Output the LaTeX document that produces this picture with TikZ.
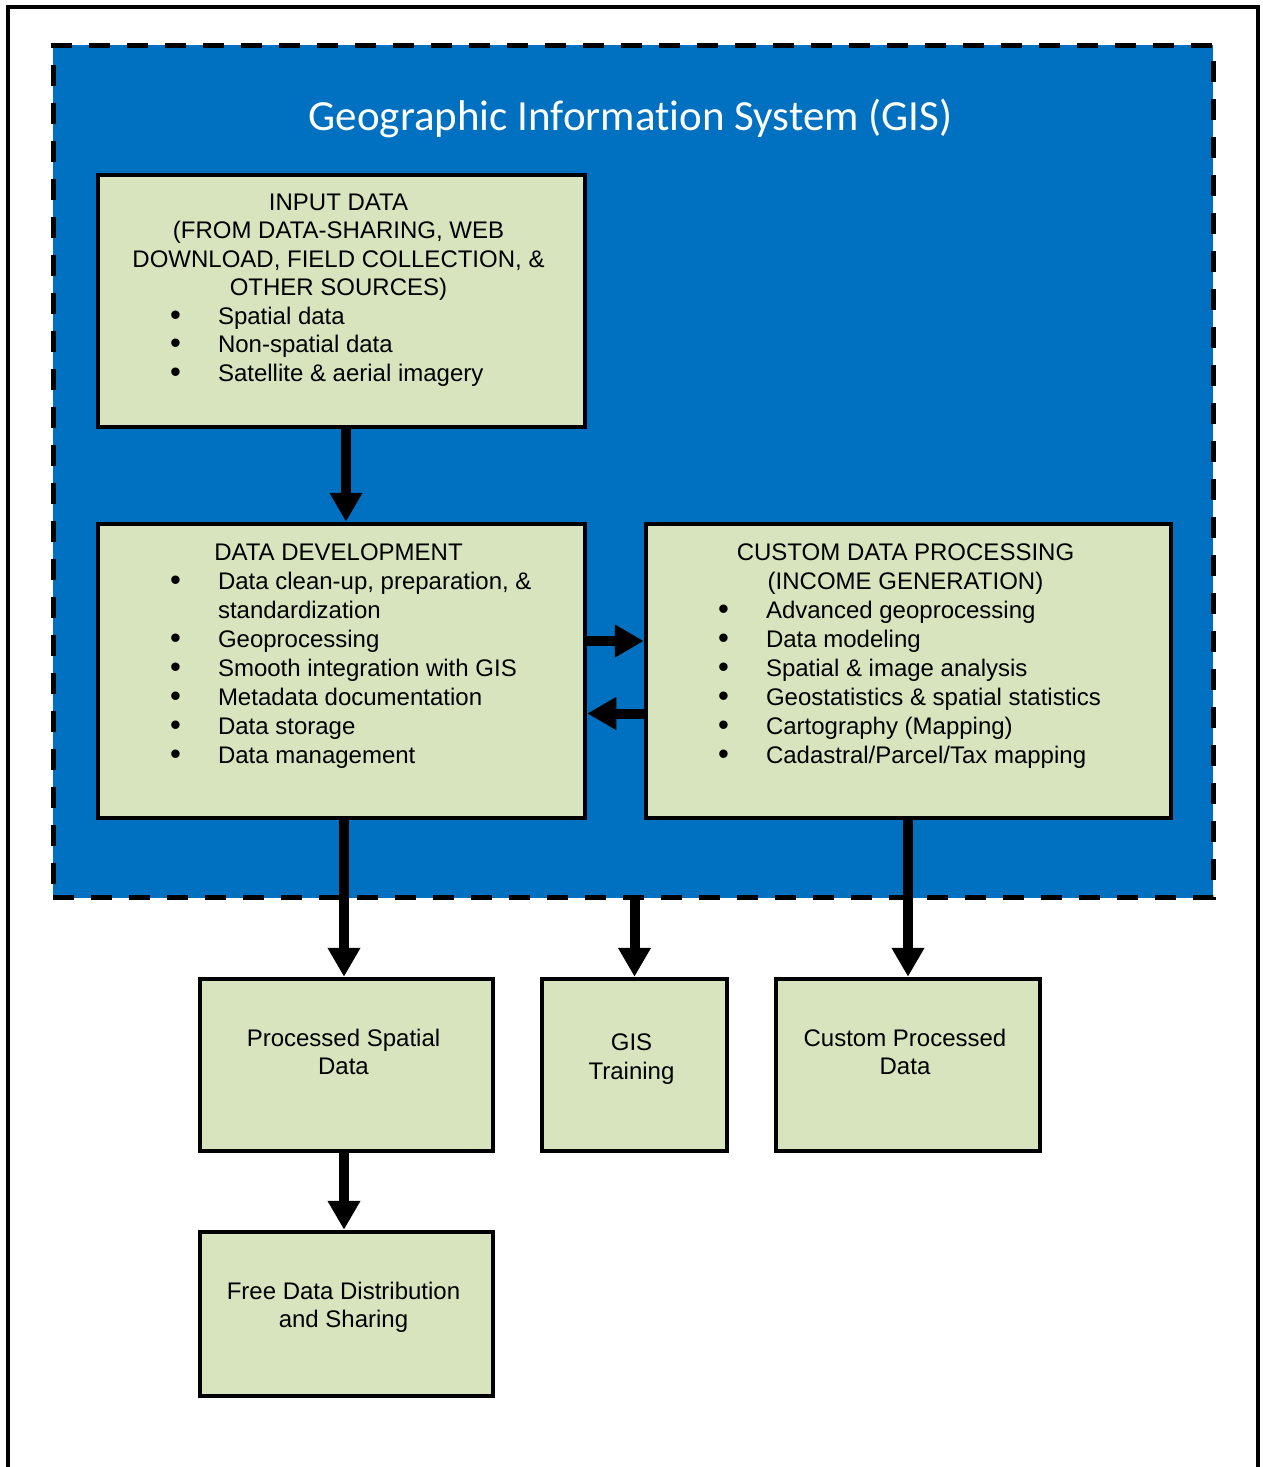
\documentclass[tikz,border=0pt]{standalone}
\usepackage{fontspec}
\setmainfont{Liberation Sans}
\newfontfamily\titlefont[Ligatures=NoCommon,RawFeature=-calt]{Carlito}
\usetikzlibrary{arrows.meta}
\definecolor{gisblue}{HTML}{0070C0}
\definecolor{boxgreen}{HTML}{D7E4BD}
\newcommand\ctrline[1]{\hbox to\hsize{\hss#1\hskip6pt\hss}}
\newcommand\bigbullet{\raisebox{-1.2pt}{\fontsize{31}{29}\selectfont\textbullet}}
\newcommand\bulline[1]{\hbox to\hsize{\hskip72pt\hbox to48pt{\bigbullet\hss}#1\hss}}
\newcommand\contline[1]{\hbox to\hsize{\hskip120pt#1\hss}}
\begin{document}
\begin{tikzpicture}[x=1pt,y=-1pt,
  box/.style={draw=black, fill=boxgreen, line width=4.5pt, inner sep=0pt,
    font=\fontsize{24}{29}\selectfont},
  region/.style={draw=black, fill=gisblue, line width=5pt, dash pattern=on 21pt off 17pt,
    inner sep=0pt, outer sep=0pt},
  arr/.style={line width=10pt, -{Triangle[length=29pt,width=31pt]}},
  frame/.style={line width=3.5pt}]
\useasboundingbox (0,0) rectangle (1262,1467);
% outer frame
\draw[frame] (8,1470) -- (8,7) -- (1258,7) -- (1258,1470);
% GIS region
\node[region, minimum width=1160pt, minimum height=852.5pt] (gis) at (633,471.25) {};
\node[anchor=base, text=white, inner sep=0pt, font=\titlefont\fontsize{43}{50}\selectfont]
  (title) at (630.5,130) {Geographic Information System (GIS)};
% boxes
\node[box] (in) at (341.5,301) {\parbox[c][252pt][t]{487pt}{\fontsize{24}{28.5}\selectfont
  \ctrline{\rule{0pt}{35pt}INPUT DATA}
  \ctrline{(FROM DATA-SHARING, WEB}
  \ctrline{DOWNLOAD, FIELD COLLECTION, \&}
  \ctrline{OTHER SOURCES)}
  \bulline{Spatial data}
  \bulline{Non-spatial data}
  \bulline{Satellite \& aerial imagery}}};
\node[box] (dev) at (341.5,671) {\parbox[c][294pt][t]{487pt}{
  \ctrline{\rule{0pt}{36pt}DATA DEVELOPMENT}
  \bulline{Data clean-up, preparation, \&}
  \contline{standardization}
  \bulline{Geoprocessing}
  \bulline{Smooth integration with GIS}
  \bulline{Metadata documentation}
  \bulline{Data storage}
  \bulline{Data management}}};
\node[box] (cust) at (908.5,671) {\parbox[c][294pt][t]{525pt}{
  \ctrline{\rule{0pt}{36pt}CUSTOM DATA PROCESSING}
  \ctrline{(INCOME GENERATION)}
  \bulline{Advanced geoprocessing}
  \bulline{Data modeling}
  \bulline{Spatial \& image analysis}
  \bulline{Geostatistics \& spatial statistics}
  \bulline{Cartography (Mapping)}
  \bulline{Cadastral/Parcel/Tax mapping}}};
\node[box] (psd) at (346.5,1065) {\parbox[c][172pt][t]{293pt}{\fontsize{24}{28}\selectfont
  \ctrline{\rule{0pt}{67pt}Processed Spatial}
  \ctrline{Data}}};
\node[box] (trn) at (634.5,1065) {\parbox[c][172pt][t]{185pt}{
  \ctrline{\rule{0pt}{71pt}GIS}
  \ctrline{Training}}};
\node[box] (cpd) at (908,1065) {\parbox[c][172pt][t]{264pt}{\fontsize{24}{28}\selectfont
  \ctrline{\rule{0pt}{67pt}Custom Processed}
  \ctrline{Data}}};
\node[box] (free) at (346.5,1314) {\parbox[c][164pt][t]{293pt}{\fontsize{24}{28}\selectfont
  \ctrline{\rule{0pt}{67pt}Free Data Distribution}
  \ctrline{and Sharing}}};
% arrow guide coordinates
\coordinate (xin) at (346,0);
\coordinate (xdev) at (344,0);
\coordinate (xtrn) at (634.5,0);
\coordinate (xcust) at (908,0);
\coordinate (yto) at (0,641);
\coordinate (yback) at (0,713.5);
% connectors
\draw[arr] (in.south -| xin) -- (dev.north -| xin);
\draw[arr] (dev.east |- yto) -- (cust.west |- yto);
\draw[arr] (cust.west |- yback) -- (dev.east |- yback);
\draw[arr] (dev.south -| xdev) -- (psd.north -| xdev);
\draw[arr] (gis.south -| xtrn) -- (trn.north -| xtrn);
\draw[arr] (cust.south -| xcust) -- (cpd.north -| xcust);
\draw[arr] (psd.south -| xdev) -- (free.north -| xdev);
\end{tikzpicture}
\end{document}
